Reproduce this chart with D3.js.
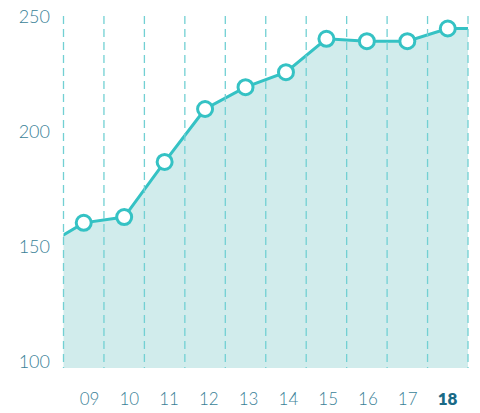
<!DOCTYPE html>
<html><head><meta charset="utf-8">
<script src="https://cdn.jsdelivr.net/npm/d3@7"></script>
<style>body{margin:0;background:#fff}svg{display:block}</style>
</head><body><svg id="c" width="480" height="413"></svg>
<script>
// data
const years = ["08","09","10","11","12","13","14","15","16","17","18","19"];
const values = [150, 160.5, 163, 187, 210, 219.5, 226, 240.5, 239.5, 239.5, 245, 245];
const xLabels = ["09","10","11","12","13","14","15","16","17","18"];
const yTicks = [100, 150, 200, 250];

(function(){
const svg = d3.select("#c");
const pL = 63.5, pR = 468, pT = 16, pB = 368;
const x = d3.scaleLinear().domain([8.5, 18.5]).range([pL, pR]);
const xl = d3.scaleLinear().domain([9, 18]).range([89.5, 447.5]);
const y = d3.scaleLinear().domain([100, 250]).range([362, 17]);
const xv = d => +d;

svg.append("defs").append("clipPath").attr("id","clip")
  .append("rect").attr("x", pL).attr("y", 0).attr("width", pR-pL).attr("height", pB);

const data = years.map((yr,i)=>({yr, v: values[i]}));

const g = svg.append("g").attr("clip-path","url(#clip)");
g.append("path").datum(data)
  .attr("d", d3.area().x(d=>x(xv(d.yr))).y0(pB).y1(d=>y(d.v)))
  .attr("fill","#d1ecec");

// vertical dashed grid
const gridX = d3.range(8.5, 19, 1);
svg.append("g").selectAll("line").data(gridX).join("line")
  .attr("x1", d=>x(d)).attr("x2", d=>x(d)).attr("y1", pT).attr("y2", pB)
  .attr("stroke","#72d0d3").attr("stroke-width",1.3).attr("stroke-dasharray","8,5");

g.append("path").datum(data)
  .attr("d", d3.line().x(d=>x(xv(d.yr))).y(d=>y(d.v)))
  .attr("fill","none").attr("stroke","#35c2c4").attr("stroke-width",3);

svg.append("g").selectAll("circle").data(data.filter(d=>xLabels.includes(d.yr))).join("circle")
  .attr("cx", d=>x(xv(d.yr))).attr("cy", d=>y(d.v)).attr("r",7.5)
  .attr("fill","#fff").attr("stroke","#35c2c4").attr("stroke-width",3);

// y labels
svg.append("g").selectAll("text").data(yTicks).join("text")
  .attr("x", 50).attr("y", d=>y(d)).attr("dy","0.35em").attr("text-anchor","end")
  .attr("font-family","Lato, 'Noto Sans', sans-serif").attr("font-size",18).attr("font-weight",300)
  .attr("fill","#3a7f97").text(d=>d);

// x labels
svg.append("g").selectAll("text").data(xLabels).join("text")
  .attr("x", d=>xl(xv(d))).attr("y", 399).attr("dy","0.35em").attr("text-anchor","middle")
  .attr("font-family","Lato, 'Noto Sans', sans-serif").attr("font-size",17)
  .attr("font-weight", d=>d==="18"?800:300)
  .attr("fill", d=>d==="18"?"#1a6a86":"#3a7f97").text(d=>d);
})();
</script></body></html>
